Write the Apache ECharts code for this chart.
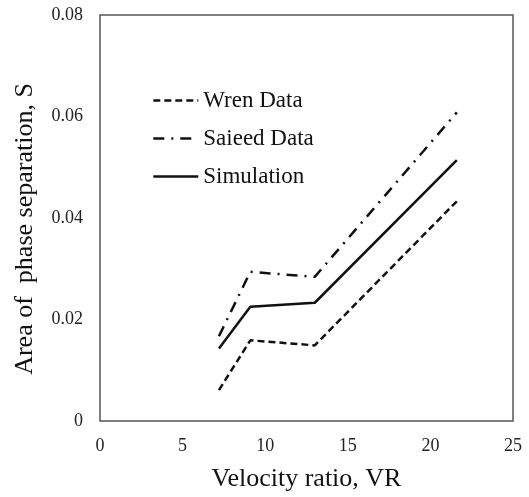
<!DOCTYPE html>
<html>
<head>
<meta charset="utf-8">
<script src="https://cdn.jsdelivr.net/npm/echarts@6/dist/echarts.min.js"></script>
<style>
  html, body { margin: 0; padding: 0; background: #fff; }
  #chart { width: 529px; height: 497px; }
</style>
</head>
<body>
<div id="chart"></div>
<script>
  // velocity ratio VR at each run
  var vr = [7.2, 9.1, 13.0, 21.6];
  var wrenData = [0.0061, 0.0159, 0.0149, 0.0433];
  var saieedData = [0.0167, 0.0294, 0.0284, 0.0608];
  var simulation = [0.0143, 0.0225, 0.0233, 0.0514];

  function pairs(ys) {
    return vr.map(function (x, i) { return [x, ys[i]]; });
  }

  var font = '"Liberation Serif", "DejaVu Serif", serif';
  var chart = echarts.init(document.getElementById('chart'));

  var option = {
    animation: false,
    textStyle: { fontFamily: font },
    grid: {
      left: 100, right: 16, top: 15, bottom: 74,
      show: true, borderColor: '#555', borderWidth: 1.5
    },
    legend: {
      orient: 'vertical',
      left: 147,
      top: 84,
      itemWidth: 45,
      itemHeight: 14,
      itemGap: 15,
      itemStyle: { opacity: 0 },
      lineStyle: { width: 2.6, color: '#111' },
      textStyle: { fontFamily: font, fontSize: 23, color: '#111' },
      data: ['Wren Data', 'Saieed Data', 'Simulation']
    },
    xAxis: {
      type: 'value',
      min: 0, max: 25, interval: 5,
      name: 'Velocity ratio, VR',
      nameLocation: 'middle',
      nameGap: 45,
      nameTextStyle: { fontFamily: font, fontSize: 26, color: '#111' },
      axisLine: { show: false },
      axisTick: { show: false },
      splitLine: { show: false },
      axisLabel: { fontFamily: font, fontSize: 18, color: '#222', margin: 16 }
    },
    yAxis: {
      type: 'value',
      min: 0, max: 0.08, interval: 0.02,
      name: 'Area of  phase separation, S',
      nameLocation: 'middle',
      nameGap: 62,
      nameTextStyle: { fontFamily: font, fontSize: 26, color: '#111', padding: [0, 22, 0, 0] },
      axisLine: { show: false },
      axisTick: { show: false },
      splitLine: { show: false },
      axisLabel: {
        fontFamily: font, fontSize: 18, color: '#222', margin: 17,
        formatter: function (v) { return v === 0 ? '0' : v.toFixed(2); }
      }
    },
    series: [
      {
        name: 'Wren Data',
        type: 'line',
        symbol: 'none',
        data: pairs(wrenData),
        color: '#111',
        lineStyle: { color: '#111', width: 2.5, type: [7, 4] }
      },
      {
        name: 'Saieed Data',
        type: 'line',
        symbol: 'none',
        data: pairs(saieedData),
        color: '#111',
        lineStyle: { color: '#111', width: 2.5, type: [11, 7, 2, 7] }
      },
      {
        name: 'Simulation',
        type: 'line',
        symbol: 'none',
        data: pairs(simulation),
        color: '#111',
        lineStyle: { color: '#111', width: 2.5 }
      }
    ]
  };

  chart.setOption(option);
</script>
</body>
</html>
